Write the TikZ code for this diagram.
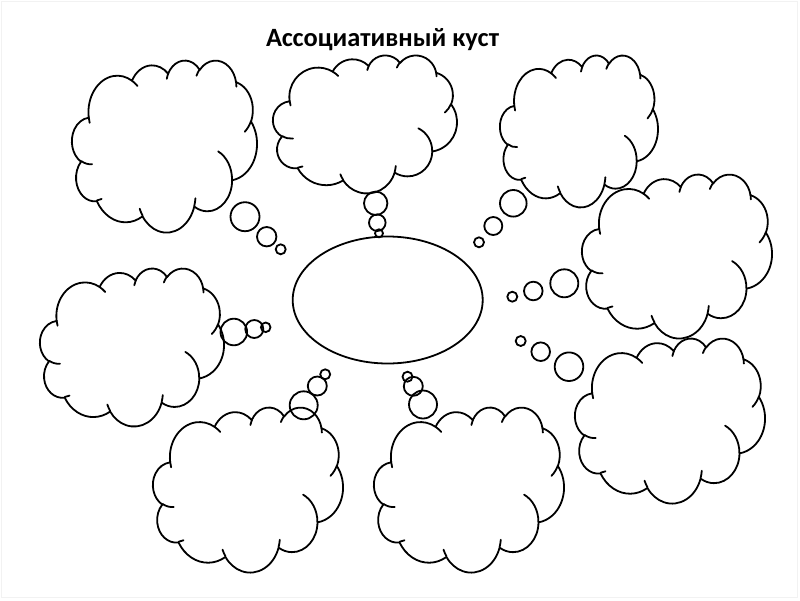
\documentclass[tikz,border=0pt]{standalone}
\usepackage{fontspec}
\setmainfont{Carlito}
\usetikzlibrary{shapes.geometric}
% arc given in DrawingML terms: x radius, y radius, start (visual) angle, sweep
\newcommand\carc[4]{arc[x radius=#1, y radius=#2, start angle={atan2(#1*sin(#3),#2*cos(#3))}, delta angle={mod(atan2(#1*sin((#3)+(#4)),#2*cos((#3)+(#4)))-atan2(#1*sin(#3),#2*cos(#3))+720,360)}]}
\newcommand\cloudoutline{%
 (390,1437) \carc{675.3}{919.0}{-190.48748}{123.78053}
 \carc{533.3}{726.7}{-144.10238}{89.94523}
 \carc{436.5}{594.5}{-145.80792}{99.72302}
 \carc{485.7}{659.5}{-130.98607}{117.24173}
 \carc{533.3}{727.3}{-78.70888}{109.02692}
 \carc{677.5}{922.0}{-46.26725}{130.269}
 \carc{578.5}{786.7}{0.62502}{114.03333}
 \carc{675.2}{921.5}{22.4516}{115.17255}
 \carc{772.0}{1054.3}{66.24263}{75.71102}
 \carc{436.0}{591.8}{-274.94208}{146.73557}
 \carc{434.5}{594.5}{-246.8285}{152.51885}
 -- cycle}
\newcommand\cloudinner{%
 (469.3,2617.7) \carc{434.5}{594.5}{86.742}{26.4295}
 (692.8,3489.9) \carc{436.0}{591.8}{73.61047}{11.44747}
 (1647.8,3909.0) \carc{675.2}{921.5}{137.62415}{14.0811}
 (2882.7,3475.1) \carc{675.2}{921.5}{6.45327}{15.99835}
 (3412.9,2295.4) \carc{578.5}{786.7}{-70.29235}{70.91737}
 (4179.8,1535.4) \carc{533.3}{727.3}{30.31803}{27.7515}
 (3832.4,542.6) \carc{485.7}{659.5}{-13.74433}{14.8589}
 (2907.8,395.2) \carc{485.7}{659.5}{-149.18145}{18.19537}
 (2214.1,472.0) \carc{436.5}{594.5}{-163.49427}{17.68635}
 (1400.0,519.2) \carc{675.3}{919.0}{-66.70695}{12.31935}
 (412.7,1578.9) \carc{675.3}{919.0}{157.65435}{11.85817}}
% cloud: left, top, width, height (pixels)
\newcommand\thoughtcloud[4]{%
 \begin{scope}[shift={(#1,#2)}, xscale=#3/4320, yscale=#4/4320]
  \draw[cloudline] \cloudoutline;
  \draw[cloudline] \cloudinner;
 \end{scope}}
\tikzset{
 cloudline/.style={line width=1.8pt, line join=round, line cap=round},
 bubble/.style={draw, line width=1.8pt},
 centre/.style={ellipse, draw, line width=1.8pt, minimum width=190pt, minimum height=127pt, inner sep=0pt},
 titletext/.style={font=\bfseries\fontsize{26.4}{30}\selectfont, anchor=base, inner sep=0pt}
}
\begin{document}
\begin{tikzpicture}[x=1pt, y=-1pt]
\useasboundingbox (0,0) rectangle (800,600);
\draw[black!5, line width=0.8pt] (1.5,1.5) rectangle (797.5,597.5);
\node[titletext] (title) at (382.5,46) {Ассоциативный куст};
\node[centre] (centre) at (387.7,300) {};
% clouds
\thoughtcloud{72}{60}{185}{172}
\thoughtcloud{273}{55}{184}{138}
\thoughtcloud{500}{55}{158}{152}
\thoughtcloud{582}{174}{190}{164}
\thoughtcloud{575}{338}{190}{165}
\thoughtcloud{40}{268}{184}{158}
\thoughtcloud{153}{407}{190}{165}
\thoughtcloud{374}{407}{190}{165}
% bubbles: top-left
\draw[bubble] (245,216.7) circle (14.5);
\draw[bubble] (266.7,236.7) circle (9.7);
\draw[bubble] (280.7,249.3) circle (5);
% top-centre
\draw[bubble] (375.7,203.3) circle (11.7);
\draw[bubble] (377.3,222.7) circle (8.3);
\draw[bubble] (379,233.3) circle (4);
% top-right
\draw[bubble] (513.3,203.3) circle (13.3);
\draw[bubble] (493.3,226) circle (9);
\draw[bubble] (479,242.3) circle (5);
% right-upper
\draw[bubble] (564.3,283.3) circle (14);
\draw[bubble] (533.3,291) circle (9.3);
\draw[bubble] (512.3,296.7) circle (5);
% right-lower
\draw[bubble] (569,366.7) circle (14.3);
\draw[bubble] (540.7,351.7) circle (9.3);
\draw[bubble] (520.7,341) circle (5);
% left-middle
\draw[bubble] (233.8,332) circle (13.3);
\draw[bubble] (254.3,329) circle (9);
\draw[bubble] (265.7,327.3) circle (4.8);
% bottom-left
\draw[bubble] (303.7,405.3) circle (14);
\draw[bubble] (317.3,386) circle (9.5);
\draw[bubble] (325.2,374.3) circle (5);
% bottom-centre
\draw[bubble] (423,404.5) circle (14);
\draw[bubble] (413.3,386.3) circle (9.5);
\draw[bubble] (407.5,376.7) circle (5);
\end{tikzpicture}
\end{document}
